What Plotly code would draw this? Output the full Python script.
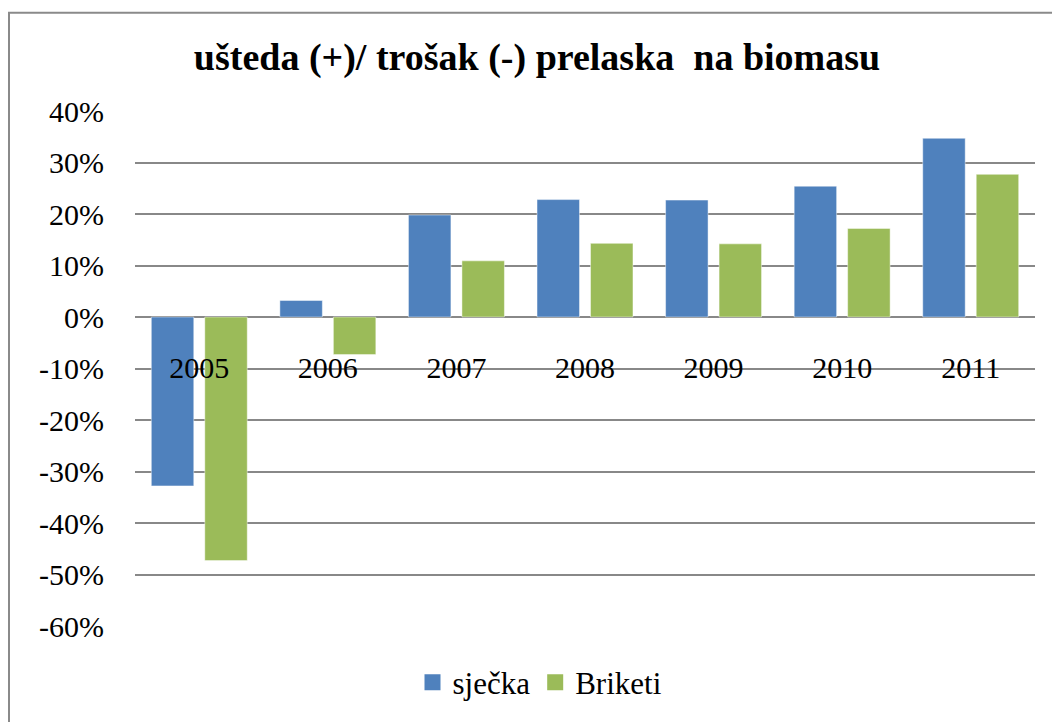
import plotly.graph_objects as go

years = ["2005", "2006", "2007", "2008", "2009", "2010", "2011"]
sjecka = [-0.328, 0.032, 0.198, 0.228, 0.227, 0.254, 0.347]
briketi = [-0.473, -0.073, 0.109, 0.143, 0.142, 0.172, 0.277]
series_names = ["sječka", "Briketi"]
colors = ["#4F81BD", "#9BBB59"]
y_tick_vals = [0.4, 0.3, 0.2, 0.1, 0.0, -0.1, -0.2, -0.3, -0.4, -0.5, -0.6]
y_tick_text = ["40%", "30%", "20%", "10%", "0%", "-10%", "-20%", "-30%", "-40%", "-50%", "-60%"]

FONT = "Liberation Serif"

fig = go.Figure()
for name, vals, col in zip(series_names, [sjecka, briketi], colors):
    fig.add_trace(go.Bar(
        x=years, y=vals, name=name, showlegend=False,
        marker=dict(color=col, line=dict(color="rgba(255,255,255,0.45)", width=1)),
    ))
# legend entries with larger square symbols
for name, col in zip(series_names, colors):
    fig.add_trace(go.Scatter(
        x=[None], y=[None], mode="markers", name=name,
        marker=dict(symbol="square", size=17, color=col),
    ))

fig.update_layout(
    width=1052, height=722,
    margin=dict(l=135, r=17, t=111, b=92),
    paper_bgcolor="white", plot_bgcolor="white",
    font=dict(family=FONT, size=30, color="black"),
    barmode="group", bargap=0.168, bargroupgap=0.206,
    title=dict(text="<b>ušteda (+)/ trošak (-) prelaska  na biomasu</b>",
               x=537/1052, xanchor="center", xref="container",
               y=1 - 57/722, yanchor="middle", yref="container",
               font=dict(family=FONT, size=38, color="black")),
    showlegend=True,
    legend=dict(orientation="h", x=0.45, xanchor="center", y=-0.11, yanchor="middle",
                font=dict(family=FONT, size=31, color="black"),
                bgcolor="rgba(0,0,0,0)", itemsizing="trace"),
    xaxis=dict(type="category", categoryorder="array", categoryarray=years,
               anchor="free", position=0.6, showgrid=False, showline=False,
               ticks="", ticklabelstandoff=30, zeroline=False,
               tickfont=dict(family=FONT, size=30, color="black")),
    yaxis=dict(range=[-0.6, 0.4], tickmode="array", tickvals=y_tick_vals, ticktext=y_tick_text,
               showgrid=True, gridcolor="#888888", gridwidth=1.5,
               zeroline=True, zerolinecolor="#888888", zerolinewidth=1.5,
               showline=False, ticks="", ticklabelstandoff=30,
               tickfont=dict(family=FONT, size=30, color="black")),
    shapes=[dict(type="rect", xref="paper", yref="paper",
                 x0=(9 - 135) / 900, x1=1.05, y0=-0.3, y1=(630 - 12) / 519,
                 line=dict(color="#8a8a8a", width=2), fillcolor="rgba(0,0,0,0)",
                 layer="below")],
)

fig.write_html("out.html", config={"displayModeBar": False},
               post_script="document.body.style.margin='0';")
